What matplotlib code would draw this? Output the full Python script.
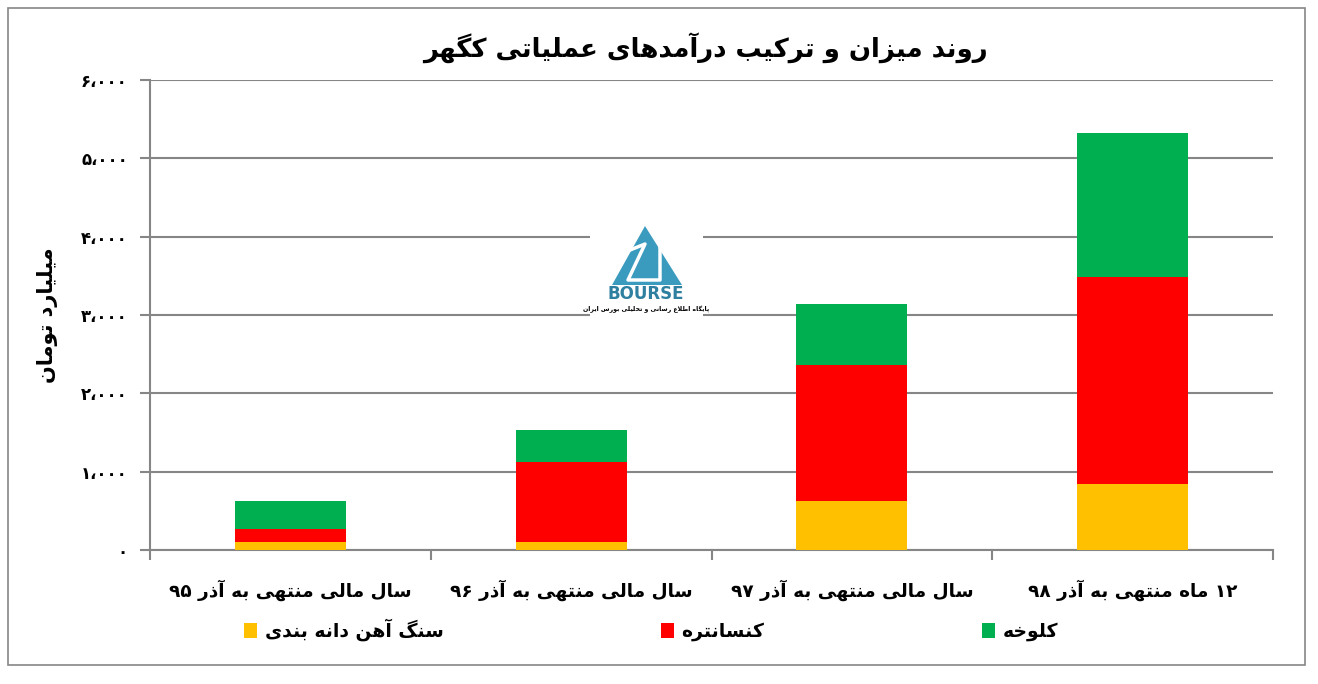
import re

import matplotlib

matplotlib.use("Agg")
import matplotlib.pyplot as plt
import numpy as np
from matplotlib.patches import Patch, Polygon, Rectangle
from matplotlib.lines import Line2D
from matplotlib.ticker import FixedLocator, FuncFormatter

plt.rcParams["font.family"] = ["DejaVu Sans"]

title = "روند میزان و ترکیب درآمدهای عملیاتی کگهر"
ylabel = "میلیارد تومان"
categories = [
    "سال مالی منتهی به آذر ۹۵",
    "سال مالی منتهی به آذر ۹۶",
    "سال مالی منتهی به آذر ۹۷",
    "۱۲ ماه منتهی به آذر ۹۸",
]
series_names = ["سنگ آهن دانه بندی", "کنسانتره", "کلوخه"]
ore = [100, 100, 625, 843]
concentrate = [168, 1027, 1737, 2642]
lump = [358, 405, 778, 1839]
series_colors = ["#FFC000", "#FF0000", "#00B050"]
yticks = [0, 1000, 2000, 3000, 4000, 5000, 6000]

# presentation forms: isolated, final, initial, medial (None = does not join forward)
FORMS = {
    "\u0627": ("\uFE8D", "\uFE8E", None, None),
    "\u0622": ("\uFE81", "\uFE82", None, None),
    "\u0628": ("\uFE8F", "\uFE90", "\uFE91", "\uFE92"),
    "\u067E": ("\uFB56", "\uFB57", "\uFB58", "\uFB59"),
    "\u062A": ("\uFE95", "\uFE96", "\uFE97", "\uFE98"),
    "\u062D": ("\uFEA1", "\uFEA2", "\uFEA3", "\uFEA4"),
    "\u062E": ("\uFEA5", "\uFEA6", "\uFEA7", "\uFEA8"),
    "\u062F": ("\uFEA9", "\uFEAA", None, None),
    "\u0630": ("\uFEAB", "\uFEAC", None, None),
    "\u0631": ("\uFEAD", "\uFEAE", None, None),
    "\u0632": ("\uFEAF", "\uFEB0", None, None),
    "\u0633": ("\uFEB1", "\uFEB2", "\uFEB3", "\uFEB4"),
    "\u0637": ("\uFEC1", "\uFEC2", "\uFEC3", "\uFEC4"),
    "\u0639": ("\uFEC9", "\uFECA", "\uFECB", "\uFECC"),
    "\u0644": ("\uFEDD", "\uFEDE", "\uFEDF", "\uFEE0"),
    "\u0645": ("\uFEE1", "\uFEE2", "\uFEE3", "\uFEE4"),
    "\u0646": ("\uFEE5", "\uFEE6", "\uFEE7", "\uFEE8"),
    "\u0647": ("\uFEE9", "\uFEEA", "\uFEEB", "\uFEEC"),
    "\u0648": ("\uFEED", "\uFEEE", None, None),
    "\u06A9": ("\uFB8E", "\uFB8F", "\uFB90", "\uFB91"),
    "\u06AF": ("\uFB92", "\uFB93", "\uFB94", "\uFB95"),
    "\u06CC": ("\uFBFC", "\uFBFD", "\uFBFE", "\uFBFF"),
}
LAM_ALEF = {"\u0627": ("\uFEFB", "\uFEFC"), "\u0622": ("\uFEF5", "\uFEF6")}


def rtl(text):
    out = []
    i = 0
    n = len(text)
    while i < n:
        ch = text[i]
        f = FORMS.get(ch)
        prev = FORMS.get(text[i - 1]) if i > 0 else None
        join_prev = f is not None and prev is not None and prev[2] is not None
        if ch == "\u0644" and i + 1 < n and text[i + 1] in LAM_ALEF:
            out.append(LAM_ALEF[text[i + 1]][1 if join_prev else 0])
            i += 2
            continue
        if f is None:
            out.append(ch)
            i += 1
            continue
        nxt = FORMS.get(text[i + 1]) if i + 1 < n else None
        join_next = f[2] is not None and nxt is not None
        if join_prev and join_next:
            out.append(f[3])
        elif join_prev:
            out.append(f[1])
        elif join_next:
            out.append(f[2])
        else:
            out.append(f[0])
        i += 1
    rev = "".join(out)[::-1]
    return re.sub(r"[\u06F0-\u06F90-9]+", lambda m: m.group(0)[::-1], rev)


def fa_number(v, pos=None):
    s = f"{int(round(v)):,}".replace(",", "\u060C")
    return s.translate(str.maketrans("0123456789", "۰۱۲۳۴۵۶۷۸۹"))


grid_color = "#868686"
W, H = 1318, 684
fig = plt.figure(figsize=(W / 100, H / 100), dpi=100)
ax = fig.add_axes([150 / W, 1 - 550 / H, 1123 / W, 470 / H])

x = np.arange(len(categories))
width = 0.395
bottom = np.zeros(len(categories))
for name, vals, color in zip(series_names, [ore, concentrate, lump], series_colors):
    ax.bar(x, vals, width, bottom=bottom, color=color, zorder=3)
    bottom += np.array(vals)

ax.set_xlim(-0.5, len(categories) - 0.5)
ax.set_ylim(0, 6000)
ax.set_yticks(yticks)
ax.yaxis.set_major_formatter(FuncFormatter(fa_number))
ax.grid(axis="y", color=grid_color, linewidth=1.5, zorder=0)

ax.set_xticks(x)
ax.set_xticklabels([rtl(c) for c in categories], fontsize=13.3, fontweight="bold")
ax.tick_params(axis="x", length=0, pad=21)
ax.xaxis.set_minor_locator(FixedLocator(np.arange(-0.5, len(categories), 1.0)))
ax.tick_params(axis="x", which="minor", length=7, width=1.5, color=grid_color)
ax.tick_params(axis="y", length=7, width=1.5, color=grid_color, pad=9, labelsize=12)
for lbl in ax.get_yticklabels():
    lbl.set_fontweight("bold")

for side in ["top", "right"]:
    ax.spines[side].set_visible(False)
for side in ["left", "bottom"]:
    ax.spines[side].set_color(grid_color)
    ax.spines[side].set_linewidth(1.5)

ax.set_ylabel(rtl(ylabel), fontsize=15, fontweight="bold")
ax.yaxis.set_label_coords(-0.082, 0.5)

fig.text(705 / W, 1 - 48 / H, rtl(title), ha="center", va="center", fontsize=18.7, fontweight="bold")

handles = [Patch(facecolor=c) for c in series_colors]
fig.legend(
    handles,
    [rtl(s) for s in series_names],
    loc="center",
    bbox_to_anchor=(0.494, 1 - 630 / H),
    ncol=3,
    frameon=False,
    prop={"size": 13.5, "weight": "bold"},
    handlelength=0.7,
    handleheight=0.8,
    handletextpad=0.4,
    columnspacing=11.6,
)

# watermark logo
fig.patches.append(Rectangle((590 / W, 1 - 318 / H), 113 / W, 108 / H,
                             transform=fig.transFigure, facecolor="white", edgecolor="none", zorder=5))
fig.patches.append(Polygon([(612 / W, 1 - 285 / H), (682 / W, 1 - 285 / H), (645 / W, 1 - 226 / H)],
                           closed=True, transform=fig.transFigure, facecolor="#3A9BBF", edgecolor="none", zorder=6))
fig.lines.append(Line2D([630 / W, 645 / W, 628 / W, 660 / W, 660 / W], [1 - 250 / H, 1 - 244 / H, 1 - 280 / H, 1 - 280 / H, 1 - 240 / H],
                        transform=fig.transFigure, color="white", linewidth=2.5, zorder=7))
fig.text(646 / W, 1 - 294 / H, "BOURSE", ha="center", va="center", fontsize=12, fontweight="bold", color="#2E7FA0", zorder=7)
fig.text(646 / W, 1 - 309 / H, rtl("پایگاه اطلاع رسانی و تحلیلی بورس ایران"),
         ha="center", va="center", fontsize=4.5, fontweight="bold", color="black", zorder=7)

fig.patches.append(Rectangle((8 / W, 1 - 665 / H), 1297 / W, 657 / H, transform=fig.transFigure,
                             fill=False, edgecolor=grid_color, linewidth=1.2))

fig.savefig("out.png", dpi=100)
